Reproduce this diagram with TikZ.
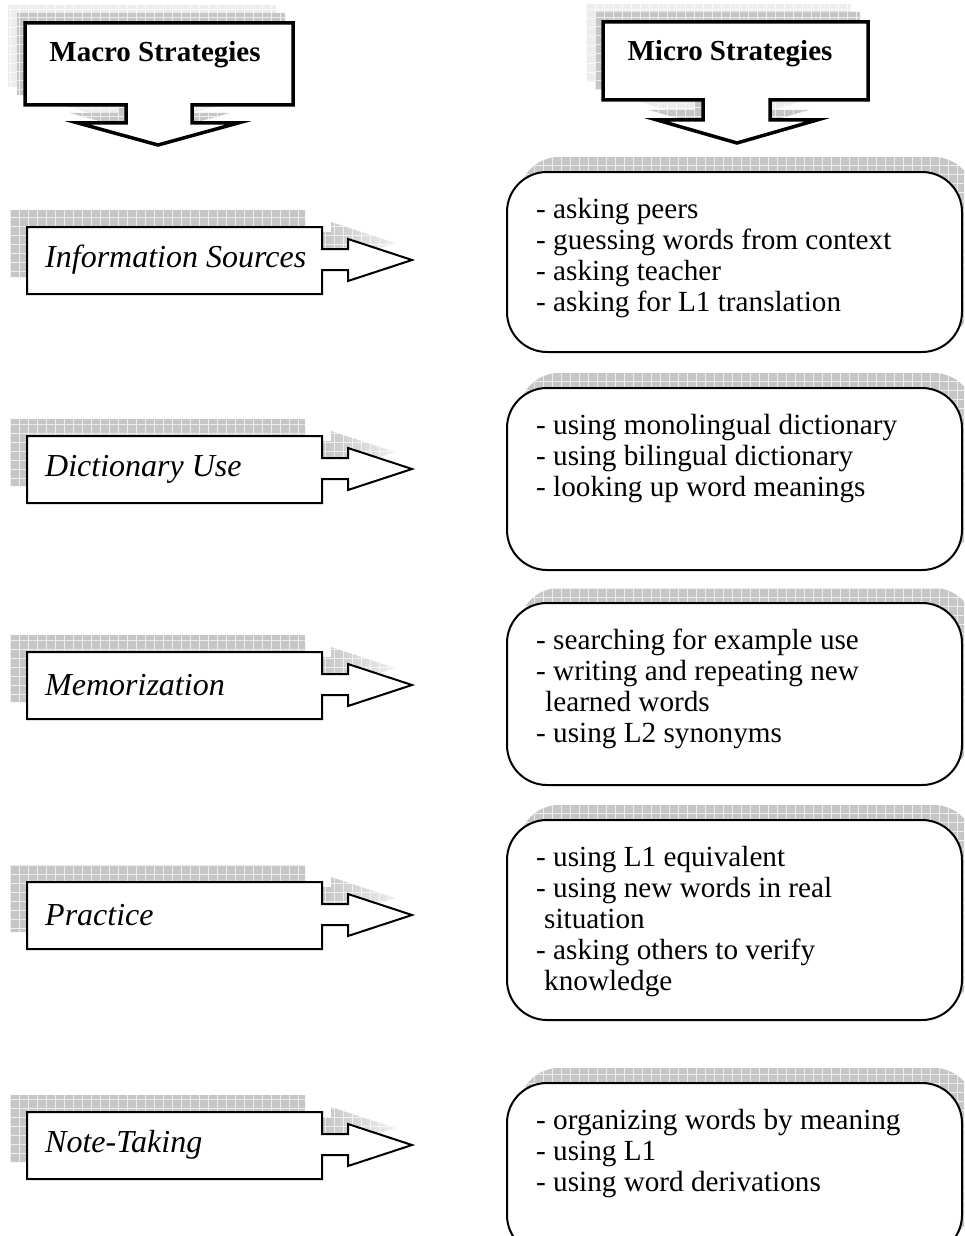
\documentclass[tikz,border=0pt]{standalone}
\usepackage{fontspec}
\setmainfont{Liberation Serif}
\usetikzlibrary{fadings}
\tikzset{
  x=1pt, y=1pt,
  hdr/.style={draw=black, line width=3.5pt, fill=white, line join=miter},
  lbox/.style={draw=black, line width=2pt, fill=white, line join=miter},
  rbox/.style={draw=black, line width=2pt, fill=white, rounded corners=40pt},
  shadowdark/.style={fill=gray!45},
  shadowlight/.style={fill=gray!14},
  gridline/.style={draw=gray!14, line width=0.9pt},
  gridlinelight/.style={draw=gray!5, line width=0.9pt},
  lbl/.style={font=\fontsize{32}{36}\selectfont\itshape, anchor=west, inner sep=0pt},
  itemtext/.style={font=\fontsize{29.2}{31}\selectfont, anchor=base west, inner sep=0pt},
  headtext/.style={font=\fontsize{29}{33}\selectfont\bfseries, inner sep=0pt},
}
% left label shape with arrow, top at #1
\newcommand\LShape[1]{(27,-#1) -- (322,-#1) -- (322,{-(#1+22)}) -- (348,{-(#1+22)}) -- (348,{-(#1+12)}) -- (412,{-(#1+33)}) -- (348,{-(#1+54)}) -- (348,{-(#1+43)}) -- (322,{-(#1+43)}) -- (322,{-(#1+67)}) -- (27,{-(#1+67)}) -- cycle}
\newcommand\MacroShape{(25,-23) -- (293,-23) -- (293,-105) -- (192,-105) -- (192,-123) -- (238,-123) -- (158,-145) -- (78,-123) -- (126,-123) -- (126,-105) -- (25,-105) -- cycle}
\newcommand\MicroShape{(603,-22) -- (868,-22) -- (868,-100) -- (770,-100) -- (770,-120) -- (817,-120) -- (737,-143) -- (657,-120) -- (703,-120) -- (703,-100) -- (603,-100) -- cycle}
\newcommand\RRect[2]{(507,-#1) rectangle (962,-#2)}
\newcommand\ItemList[3]{%
  \foreach \t [count=\j] in {#3}{
    \node[itemtext] (#1-\j) at (536,{-(#2+46+(\j-1)*31)}) {\t};
  }}

\begin{document}
\begin{tikzpicture}
\useasboundingbox (0,0) rectangle (964,-1236);
\clip (0,0) rectangle (964,-1236);

% ---------- header callouts ----------
\foreach \dx/\dy/\sty/\gst in {-17/18/shadowlight/gridlinelight, -8/10/shadowdark/gridline}{
  \begin{scope}[shift={(\dx,\dy)}]
    \fill[\sty] \MacroShape;
    \fill[\sty] \MicroShape;
    \clip \MacroShape \MicroShape;
    \draw[\gst, step=9] (0,-200) grid (964,0);
  \end{scope}
}
\draw[hdr] \MacroShape;
\draw[hdr] \MicroShape;
\node[headtext] (macro) at (155,-55) {Macro Strategies};
\node[headtext] (micro) at (730,-54) {Micro Strategies};

% ---------- left macro-strategy boxes ----------
\foreach \T/\name/\txt in {227/info/Information Sources, 436/dict/Dictionary Use, 652/memo/Memorization, 882/prac/Practice, 1112/note/Note-Taking}{
  \begin{scope}[shift={(-17,17)}]
    \fill[shadowdark] \LShape{\T};
    \clip \LShape{\T};
    \draw[gridline, step=9] (0,{-(\T-30)}) grid (964,{-(\T+100)});
  \end{scope}
  \fill[white, path fading=west] (322,{-(\T-12)}) rectangle (430,{-(\T+45)});
  \draw[lbox] \LShape{\T};
  \node[lbl] (\name) at (45,{-(\T+33)}) {\txt};
}

% ---------- right micro-strategy boxes ----------
\foreach \T/\B in {172/352, 388/570, 603/785, 820/1020, 1083/1255}{
  \begin{scope}[shift={(12,15)}]
    \fill[shadowdark, rounded corners=40pt] \RRect{\T}{\B};
    \clip[rounded corners=40pt] \RRect{\T}{\B};
    \draw[gridline, step=9] (500,{-(\T-30)}) grid (990,{-(\B+10)});
  \end{scope}
  \draw[rbox] \RRect{\T}{\B};
}

\ItemList{src}{172}{- asking peers, - guessing words from context, - asking teacher, - asking for L1 translation}
\ItemList{dic}{388}{- using monolingual dictionary, - using bilingual dictionary, - looking up word meanings}
\ItemList{mem}{603}{- searching for example use, - writing and repeating new, \hspace*{9pt}learned words, - using L2 synonyms}
\ItemList{pra}{820}{- using L1 equivalent, - using new words in real, \hspace*{8pt}situation, - asking others to verify, \hspace*{8pt}knowledge}
\ItemList{not}{1083}{- organizing words by meaning, - using L1, - using word derivations}
\end{tikzpicture}
\end{document}
